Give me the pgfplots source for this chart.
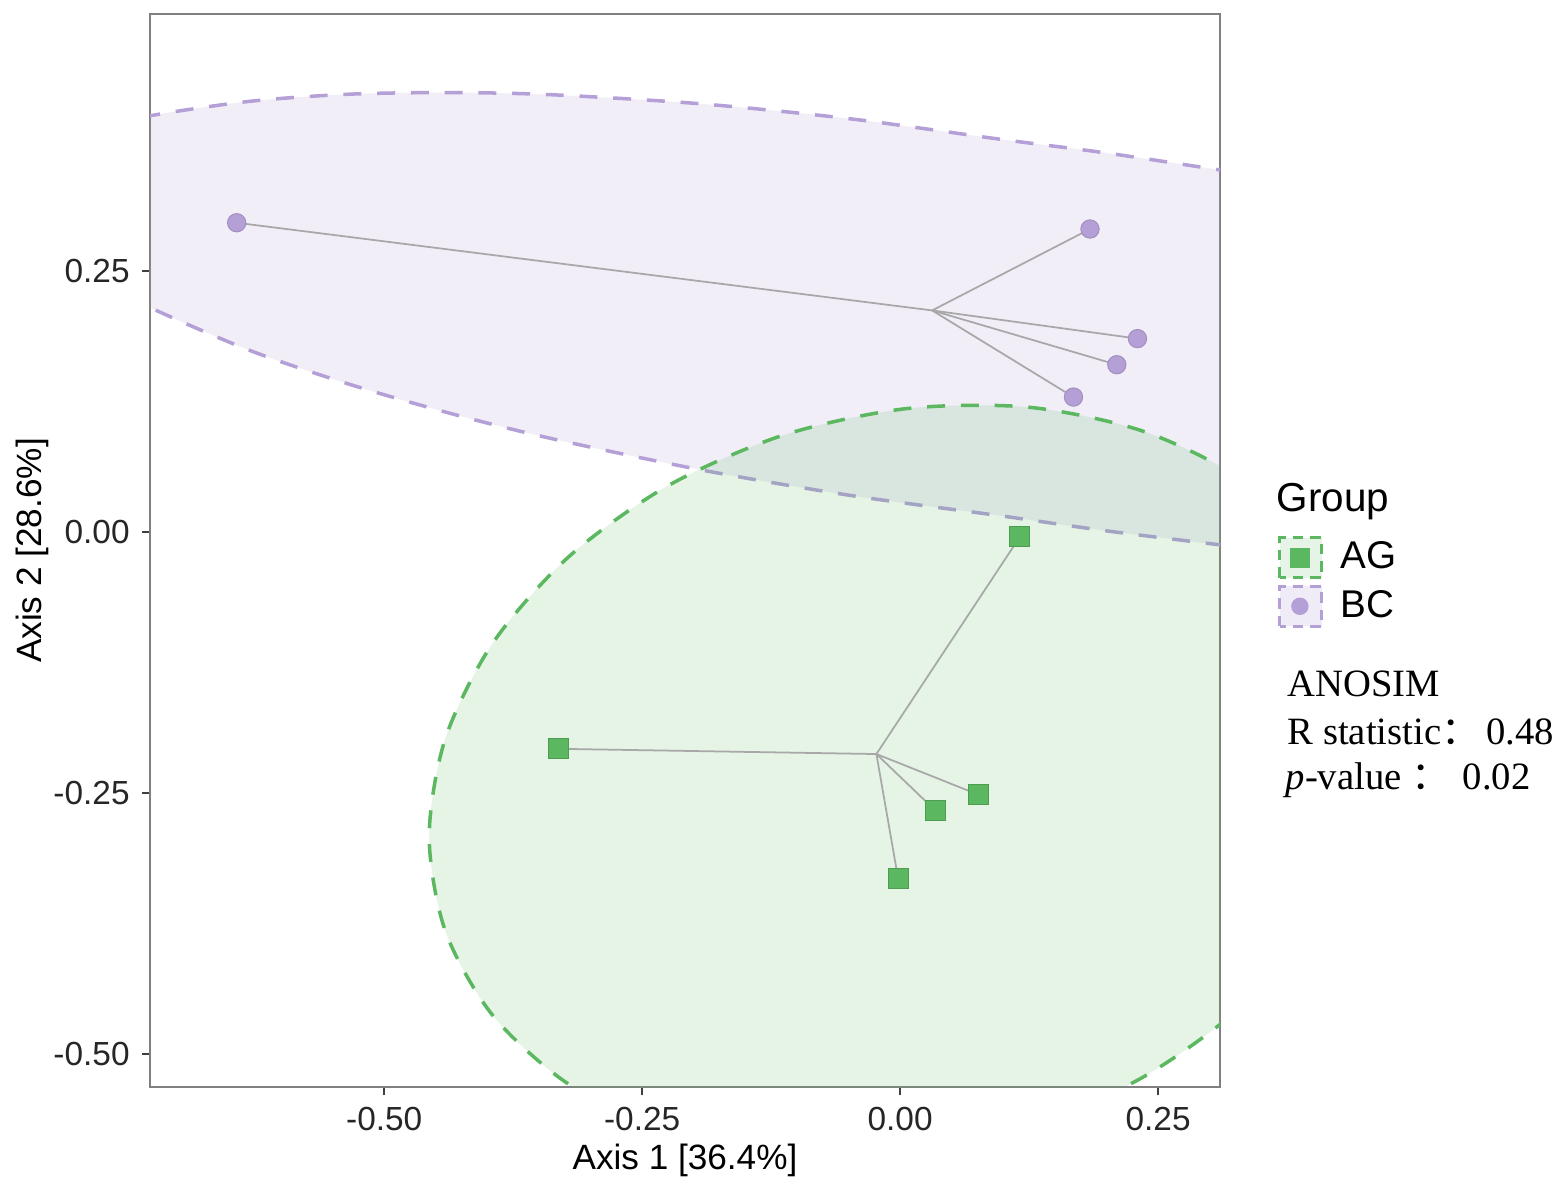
\documentclass[border=0pt]{standalone}
\usepackage{pgfplots}
\pgfplotsset{compat=1.18}
\usepackage{fontspec}
\setmainfont{Liberation Sans}
\newfontfamily\serif{Liberation Serif}
\newfontfamily\cjk{Noto Sans CJK SC}

\definecolor{ag}{RGB}{92,184,96}
\definecolor{bc}{RGB}{180,160,215}
\definecolor{seg}{RGB}{168,168,168}

\begin{document}
\begin{tikzpicture}
% page frame: 1 px of the reference = 0.01 cm
\path (0,0) rectangle (15.59,11.89);
\begin{axis}[
  at={(1.50cm,1.02cm)}, anchor=south west,
  width=10.70cm, height=10.73cm, scale only axis,
  xmin=-0.727, xmax=0.310, ymin=-0.532, ymax=0.496,
  xtick={-0.5,-0.25,0,0.25}, xticklabels={-0.50,-0.25,0.00,0.25},
  ytick={-0.5,-0.25,0,0.25}, yticklabels={-0.50,-0.25,0.00,0.25},
  xtick pos=left, ytick pos=left,
  tick align=outside, major tick length=0.08cm,
  tick style={black!75, line width=0.6pt},
  axis line style={gray, line width=0.7pt},
  ticklabel style={font=\fontsize{9.5}{11}\selectfont, text=black!85},
  xlabel={Axis 1 [36.4\%]}, ylabel={Axis 2 [28.6\%]},
  label style={font=\fontsize{11.3}{13}\selectfont},
  every axis x label/.style={at={(axis description cs:0.5,-0.068)}, anchor=center},
  every axis y label/.style={at={(axis description cs:-0.11,0.5)}, rotate=90, anchor=center},
  legend style={at={(1.054,0.5154)}, anchor=north west, draw=none, fill=none,
    inner sep=0pt, row sep=0.6pt, font=\fontsize{11}{13}\selectfont,
    /tikz/every odd column/.append style={column sep=0.1cm}},
  legend cell align=left,
  ellipse/.style={smooth, line width=1pt, dash pattern=on 5.1pt off 4.5pt},
]

% confidence ellipses (outline, closed outside the frame)
\addplot[ellipse, draw=bc, fill=bc, fill opacity=0.18, forget plot] coordinates {
(-0.7655,0.3873) (-0.7267,0.3985) (-0.6298,0.4124) (-0.5329,0.4192) (-0.4360,0.4207)
(-0.3391,0.4187) (-0.1938,0.4100) (-0.0484,0.3956) (0.0969,0.3760) (0.1986,0.3630)
(0.3091,0.3467) (0.3488,0.3410)
(0.3488,-0.0172) (0.3091,-0.0125) (0.1986,0.0010) (0.0969,0.0153) (-0.0484,0.0348)
(-0.1938,0.0594) (-0.3391,0.0895) (-0.4360,0.1134) (-0.5329,0.1410) (-0.6298,0.1735)
(-0.7267,0.2146) (-0.7655,0.2352)
} -- cycle;

\addplot[ellipse, draw=ag, fill=ag, fill opacity=0.16, forget plot] coordinates {
(0.4661,-0.1868) (0.4504,-0.2810) (0.4043,-0.3725) (0.3310,-0.4548) (0.2355,-0.5225)
(0.1242,-0.5710) (0.0048,-0.5967) (-0.1145,-0.5982) (-0.2258,-0.5752) (-0.3213,-0.5293)
(-0.3946,-0.4637) (-0.4407,-0.3828) (-0.4564,-0.2921) (-0.4407,-0.1979) (-0.3946,-0.1064)
(-0.3213,-0.0241) (-0.2258,0.0436) (-0.1145,0.0921) (0.0048,0.1178) (0.1242,0.1193)
(0.2355,0.0963) (0.3310,0.0504) (0.4043,-0.0152) (0.4504,-0.0962) (0.4661,-0.1868)
};

% spider lines from group centroid
\addplot[seg, line width=0.5pt, forget plot] coordinates {(0.031,0.212) (-0.643,0.296)};
\addplot[seg, line width=0.5pt, forget plot] coordinates {(0.031,0.212) (0.184,0.290)};
\addplot[seg, line width=0.5pt, forget plot] coordinates {(0.031,0.212) (0.230,0.185)};
\addplot[seg, line width=0.5pt, forget plot] coordinates {(0.031,0.212) (0.210,0.160)};
\addplot[seg, line width=0.5pt, forget plot] coordinates {(0.031,0.212) (0.168,0.129)};
\addplot[seg, line width=0.5pt, forget plot] coordinates {(-0.023,-0.213) (0.116,-0.005)};
\addplot[seg, line width=0.5pt, forget plot] coordinates {(-0.023,-0.213) (-0.331,-0.208)};
\addplot[seg, line width=0.5pt, forget plot] coordinates {(-0.023,-0.213) (0.076,-0.252)};
\addplot[seg, line width=0.5pt, forget plot] coordinates {(-0.023,-0.213) (0.034,-0.267)};
\addplot[seg, line width=0.5pt, forget plot] coordinates {(-0.023,-0.213) (-0.002,-0.332)};

% samples
\addplot[only marks, mark=square*, mark size=2.85pt, mark options={fill=ag, draw=ag!85!black, line width=0.3pt}, forget plot]
  coordinates {(0.116,-0.005) (-0.331,-0.208) (0.076,-0.252) (0.034,-0.267) (-0.002,-0.332)};
\addplot[only marks, mark=*, mark size=2.6pt, mark options={fill=bc, draw=bc!90!black, line width=0.3pt}, forget plot]
  coordinates {(-0.643,0.296) (0.184,0.290) (0.230,0.185) (0.210,0.160) (0.168,0.129)};

\addlegendimage{legend image code/.code={
  \draw[ag, line width=0.8pt, dash pattern=on 3pt off 2pt, fill=ag!16] (0cm,-0.2cm) rectangle (0.42cm,0.2cm);
  \fill[ag] (0.11cm,-0.09cm) rectangle (0.29cm,0.09cm);}}
\addlegendentry{AG}
\addlegendimage{legend image code/.code={
  \draw[bc, line width=0.8pt, dash pattern=on 3pt off 2pt, fill=bc!20] (0cm,-0.2cm) rectangle (0.42cm,0.2cm);
  \fill[bc] (0.2cm,0cm) circle (0.08cm);}}
\addlegendentry{BC}
\end{axis}

\node[anchor=base west, inner sep=0pt, font=\fontsize{11.5}{13}\selectfont] at (12.76,6.77) {Group};
\node[anchor=base west, inner sep=0pt, font=\serif\fontsize{11}{13}\selectfont] at (12.87,4.92) {ANOSIM};
\node[anchor=base west, inner sep=0pt, font=\serif\fontsize{11}{13}\selectfont] at (12.87,4.44) {R statistic{\cjk ：}\,0.48};
\node[anchor=base west, inner sep=0pt, font=\serif\fontsize{11}{13}\selectfont] at (12.85,3.99) {\textit{p}-value {\cjk ：}\,\,0.02};
\end{tikzpicture}
\end{document}
